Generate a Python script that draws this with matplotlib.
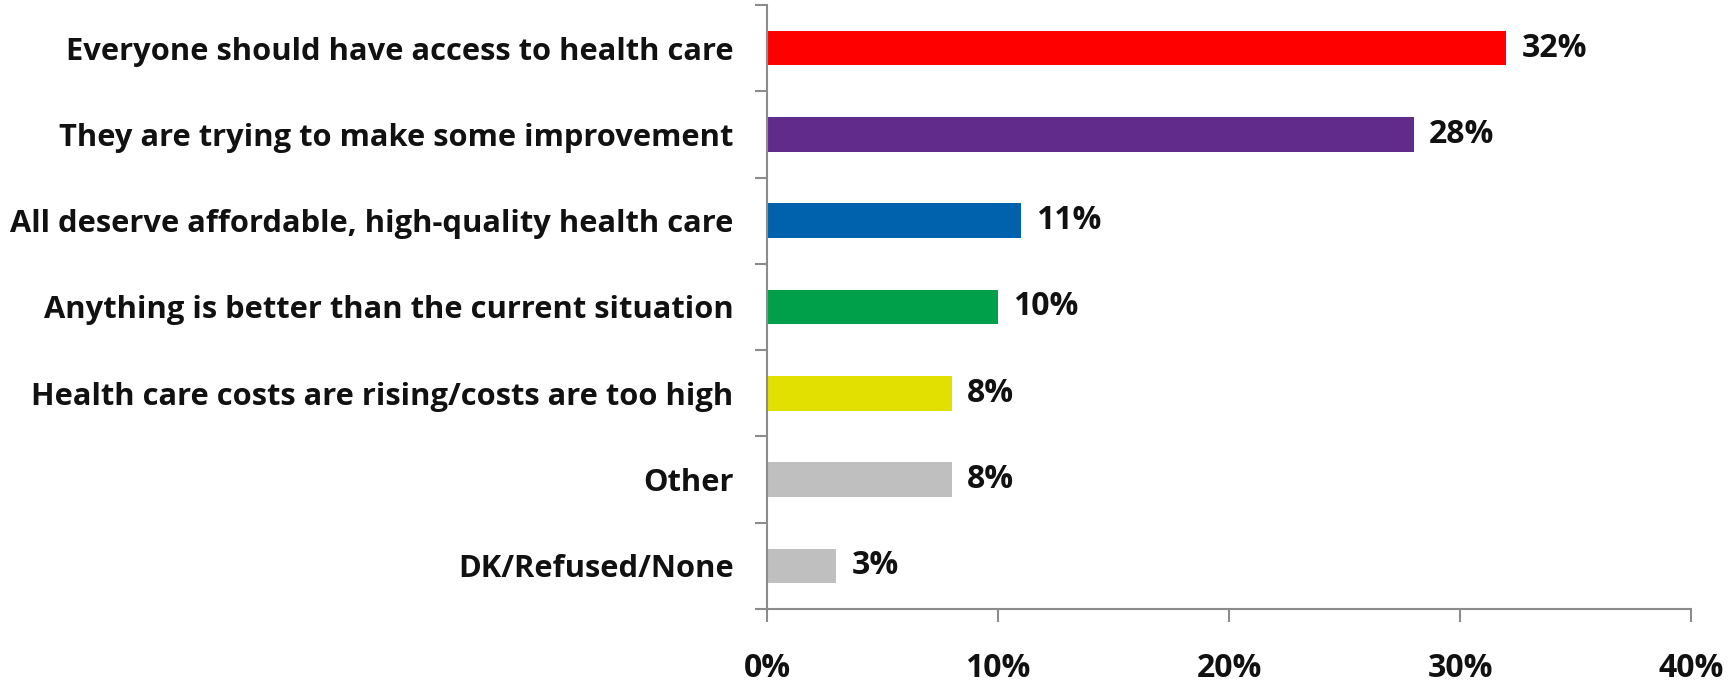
import matplotlib
matplotlib.use("Agg")
import matplotlib.pyplot as plt
from matplotlib.ticker import FuncFormatter

# data (top to bottom as shown)
categories = [
    "Everyone should have access to health care",
    "They are trying to make some improvement",
    "All deserve affordable, high-quality health care",
    "Anything is better than the current situation",
    "Health care costs are rising/costs are too high",
    "Other",
    "DK/Refused/None",
]
values = [32, 28, 11, 10, 8, 8, 3]
colors = ["#FF0000", "#612B8B", "#0062AC", "#00A04A", "#E1E000", "#BFBFBF", "#BFBFBF"]
x_ticks = [0, 10, 20, 30, 40]

plt.rcParams['font.family'] = ['Open Sans', 'DejaVu Sans']
plt.rcParams['font.weight'] = 'bold'

fig = plt.figure(figsize=(17.29, 6.85), dpi=100)
ax = fig.add_axes([0.4436, 0.111, 0.5345, 0.8817])

n = len(categories)
ypos = list(range(n))[::-1]
ax.barh(ypos, values, height=0.4, color=colors)

for y, v in zip(ypos, values):
    ax.text(v + 0.65, y, f"{v}%", va="center", ha="left",
            fontsize=23, fontweight="bold", color="#111111")

ax.set_xlim(0, 40)
ax.set_ylim(-0.5, n - 0.5)
ax.set_xticks(x_ticks)
ax.xaxis.set_major_formatter(FuncFormatter(lambda v, p: f"{v:.0f}%"))
ax.set_yticks(ypos)
ax.set_yticklabels(categories)
# category boundary ticks on the y axis
ax.set_yticks([i - 0.5 for i in range(n + 1)], minor=True)

axis_col = "#8C8C8C"
for side in ["top", "right"]:
    ax.spines[side].set_visible(False)
for side in ["left", "bottom"]:
    ax.spines[side].set_color(axis_col)
    ax.spines[side].set_linewidth(1.5)

ax.tick_params(axis="y", which="major", length=0, pad=24, labelsize=22.2, labelcolor="#111111")
ax.tick_params(axis="y", which="minor", length=9, width=1.5, color=axis_col, direction="out")
ax.tick_params(axis="x", which="major", length=9, width=1.5, color=axis_col, direction="out",
               pad=22, labelsize=23, labelcolor="#111111")
for lbl in ax.get_xticklabels() + ax.get_yticklabels():
    lbl.set_fontweight("bold")

fig.savefig("out.png", dpi=100, facecolor="white")
